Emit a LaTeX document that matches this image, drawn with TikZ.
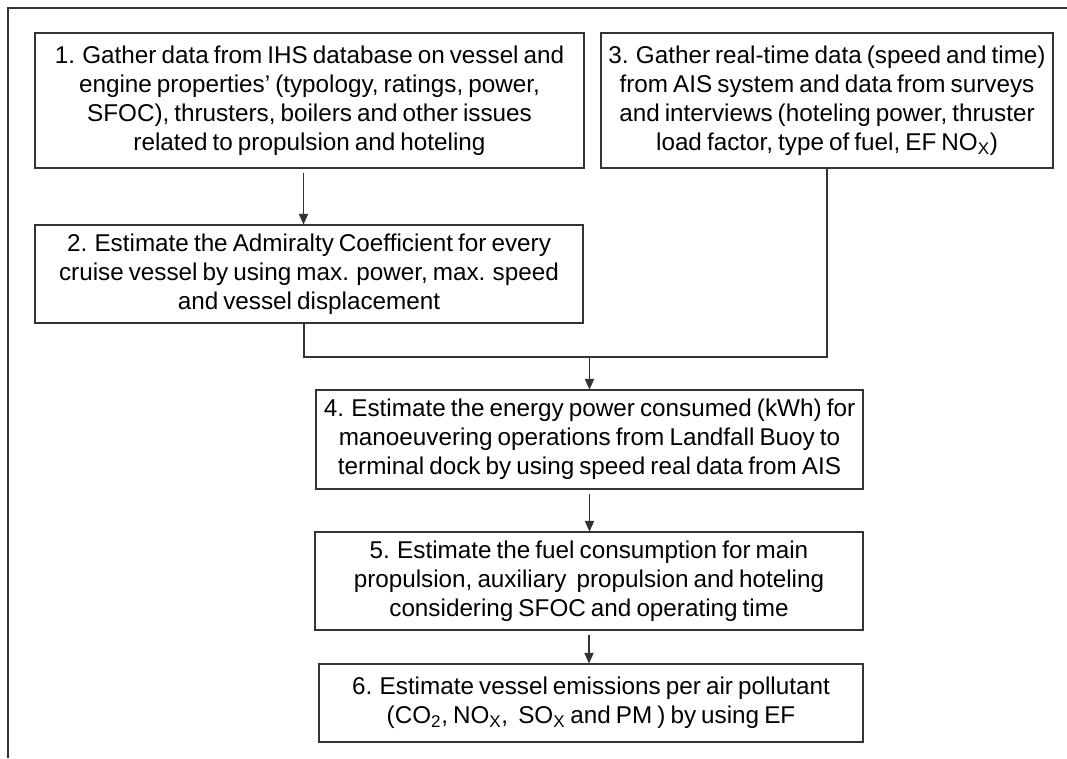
\documentclass[tikz,border=0pt]{standalone}
\usepackage{fontspec}
\setmainfont{Liberation Sans}[WordSpace=0.75]
\usetikzlibrary{arrows.meta,calc}
\begin{document}
\begin{tikzpicture}[x=0.75pt,y=-0.75pt,
  stepbox/.style={draw=black!80,line width=0.8pt,inner sep=0pt,align=center,
    font=\fontsize{18.2}{21.75}\selectfont},
  link/.style={draw=black!80,line width=0.8pt},
  arr/.style={link,-{Triangle[width=7pt,length=8pt]}}]
\useasboundingbox (0,0) rectangle (1067,758);
\draw[link] (1067,8) -- (8,8) -- (8,758);
\node[stepbox,minimum width=411.75pt,minimum height=101.25pt] (b1) at (309.5,100.5)
  {1. Gather data from IHS database on vessel and\\
   engine properties' (typology, ratings, power,\\
   SFOC), thrusters, boilers and other issues\\
   related to propulsion and hoteling};
\node[stepbox,minimum width=339pt,minimum height=101.25pt] (b3) at (827,100.5)
  {3. Gather real-time data (speed and time)\\
   from AIS system and data from surveys\\
   and interviews (hoteling power, thruster\\
   load factor, type of fuel, EF NO\textsubscript{X})};
\node[stepbox,minimum width=411pt,minimum height=73.5pt] (b2) at (309,274)
  {2. Estimate the Admiralty Coefficient for every\\
   cruise vessel by using max. power, max. speed\\
   and vessel displacement};
\node[stepbox,minimum width=410.25pt,minimum height=74.25pt] (b4) at (589.5,439.5)
  {4. Estimate the energy power consumed (kWh) for\\
   manoeuvering operations from Landfall Buoy to\\
   terminal dock by using speed real data from AIS};
\node[stepbox,minimum width=411pt,minimum height=73.5pt] (b5) at (589,581)
  {5. Estimate the fuel consumption for main\\
   propulsion, auxiliary\ \ propulsion and hoteling\\
   considering SFOC and operating time};
\node[stepbox,minimum width=408pt,minimum height=58.5pt] (b6) at (591,703)
  {6. Estimate vessel emissions per air pollutant\\
   (CO\textsubscript{2}, NO\textsubscript{X},\ \ SO\textsubscript{X} and PM ) by using EF};
\coordinate (j) at (589.5,357);
\draw[arr,shorten <=3pt] ([xshift=-4.5pt]b1.south) -- ([xshift=-4.5pt]b1.south |- b2.north);
\draw[link] ([xshift=-3.75pt]b2.south) |- (j) -| (b3.south);
\draw[arr] (j) -- (b4.north);
\draw[arr,shorten <=3pt] (b4.south) -- (b4.south |- b5.north);
\draw[arr,shorten <=3pt] (b5.south) -- (b5.south |- b6.north);
\end{tikzpicture}
\end{document}
